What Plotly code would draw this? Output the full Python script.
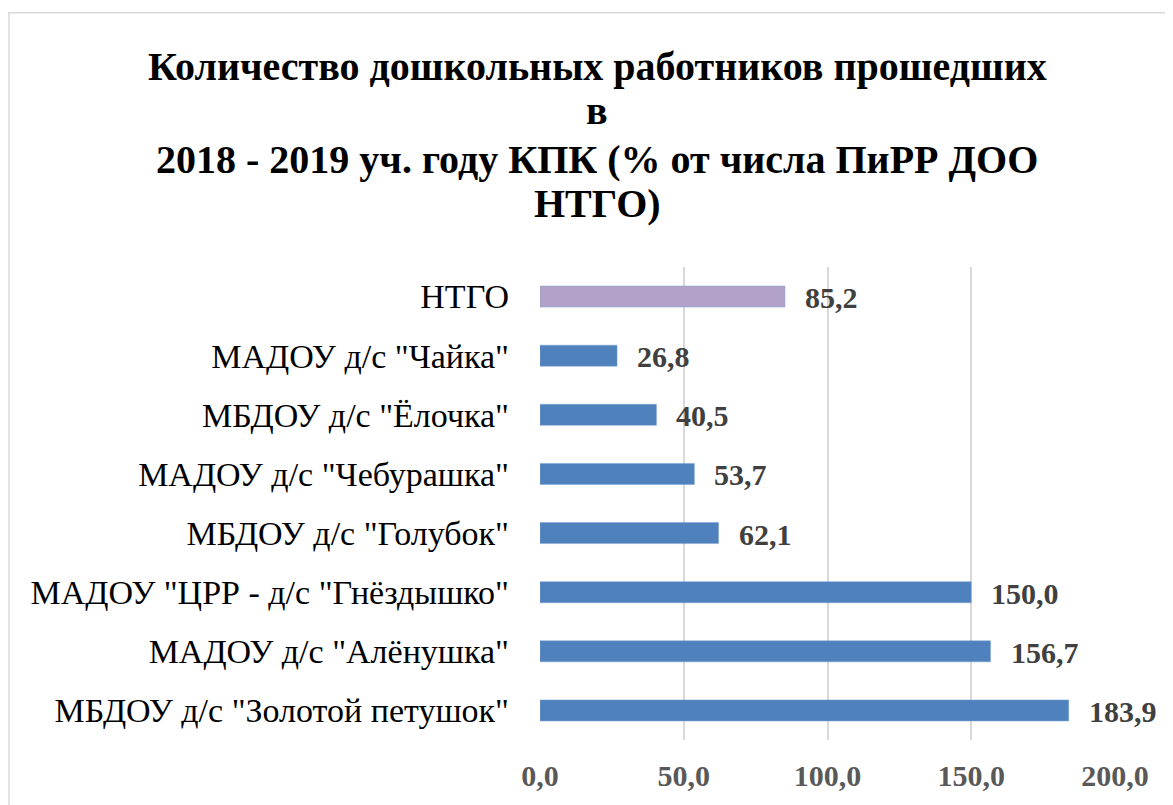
import plotly.graph_objects as go

categories = [
    'МБДОУ д/с "Золотой петушок"',
    'МАДОУ д/с "Алёнушка"',
    'МАДОУ "ЦРР - д/с "Гнёздышко"',
    'МБДОУ д/с "Голубок"',
    'МАДОУ д/с "Чебурашка"',
    'МБДОУ д/с "Ёлочка"',
    'МАДОУ д/с "Чайка"',
    'НТГО',
]
values = [183.9, 156.7, 150.0, 62.1, 53.7, 40.5, 26.8, 85.2]
colors = ["#4F81BD"] * 7 + ["#B3A2C7"]
tick_vals = [0, 50, 100, 150, 200]

title_lines = [
    "Количество дошкольных работников прошедших",
    "в",
    "2018 - 2019 уч. году КПК (% от числа ПиРР ДОО",
    "НТГО)",
]

# page geometry (page has an 8px body margin)
PLOT_TOP, PLOT_BOTTOM = 267.0, 739.5
PH = PLOT_BOTTOM - PLOT_TOP
PLOT_LEFT, PW = 540.0, 575.0

def py(page_y):
    return (PLOT_BOTTOM - page_y) / PH

def px(page_x):
    return (page_x - PLOT_LEFT) / PW

fig = go.Figure()
fig.add_trace(go.Bar(
    y=categories, x=values, orientation="h",
    marker=dict(color=colors, line=dict(color="#7DA3D3", width=0.5)),
    width=0.356, hoverinfo="skip",
))

for c, v in zip(categories, values):
    fig.add_annotation(
        x=v, y=c, text="<b>%s</b>" % f"{v:.1f}".replace(".", ","),
        showarrow=False, xanchor="left", xshift=18, yshift=-1,
        font=dict(family="Liberation Serif", size=30, color="#404040"),
    )

title_centers = [67, 111, 160, 204]
for line, cy in zip(title_lines, title_centers):
    fig.add_annotation(
        xref="paper", yref="paper", x=px(597), y=py(cy),
        xanchor="center", yanchor="middle",
        text="<b>%s</b>" % line, showarrow=False,
        font=dict(family="Liberation Serif", size=40, color="#000000"),
    )

fig.add_shape(
    type="rect", xref="paper", yref="paper",
    x0=px(9), x1=px(1200), y0=py(900), y1=py(13),
    line=dict(color="#D9D9D9", width=1.5), fillcolor="rgba(0,0,0,0)", layer="below",
)

fig.update_layout(
    width=1165, height=797,
    margin=dict(l=532, r=58, t=259, b=65),
    paper_bgcolor="white", plot_bgcolor="white",
    separators=", ",
    showlegend=False,
    xaxis=dict(
        range=[0, 200], tickvals=tick_vals, tickformat=".1f",
        showgrid=True, gridcolor="#D9D9D9", gridwidth=2,
        zeroline=False, showline=False, ticks="",
        tickfont=dict(family="Liberation Serif", size=30, color="#595959", weight="bold"),
        ticklabelstandoff=15,
    ),
    yaxis=dict(
        categoryorder="array", categoryarray=categories,
        range=[-0.5, 7.5],
        showgrid=False, zeroline=False, showline=False, ticks="",
        tickfont=dict(family="Liberation Serif", size=34, color="#000000"),
        ticklabelstandoff=30,
    ),
)

fig.write_html("out.html")
